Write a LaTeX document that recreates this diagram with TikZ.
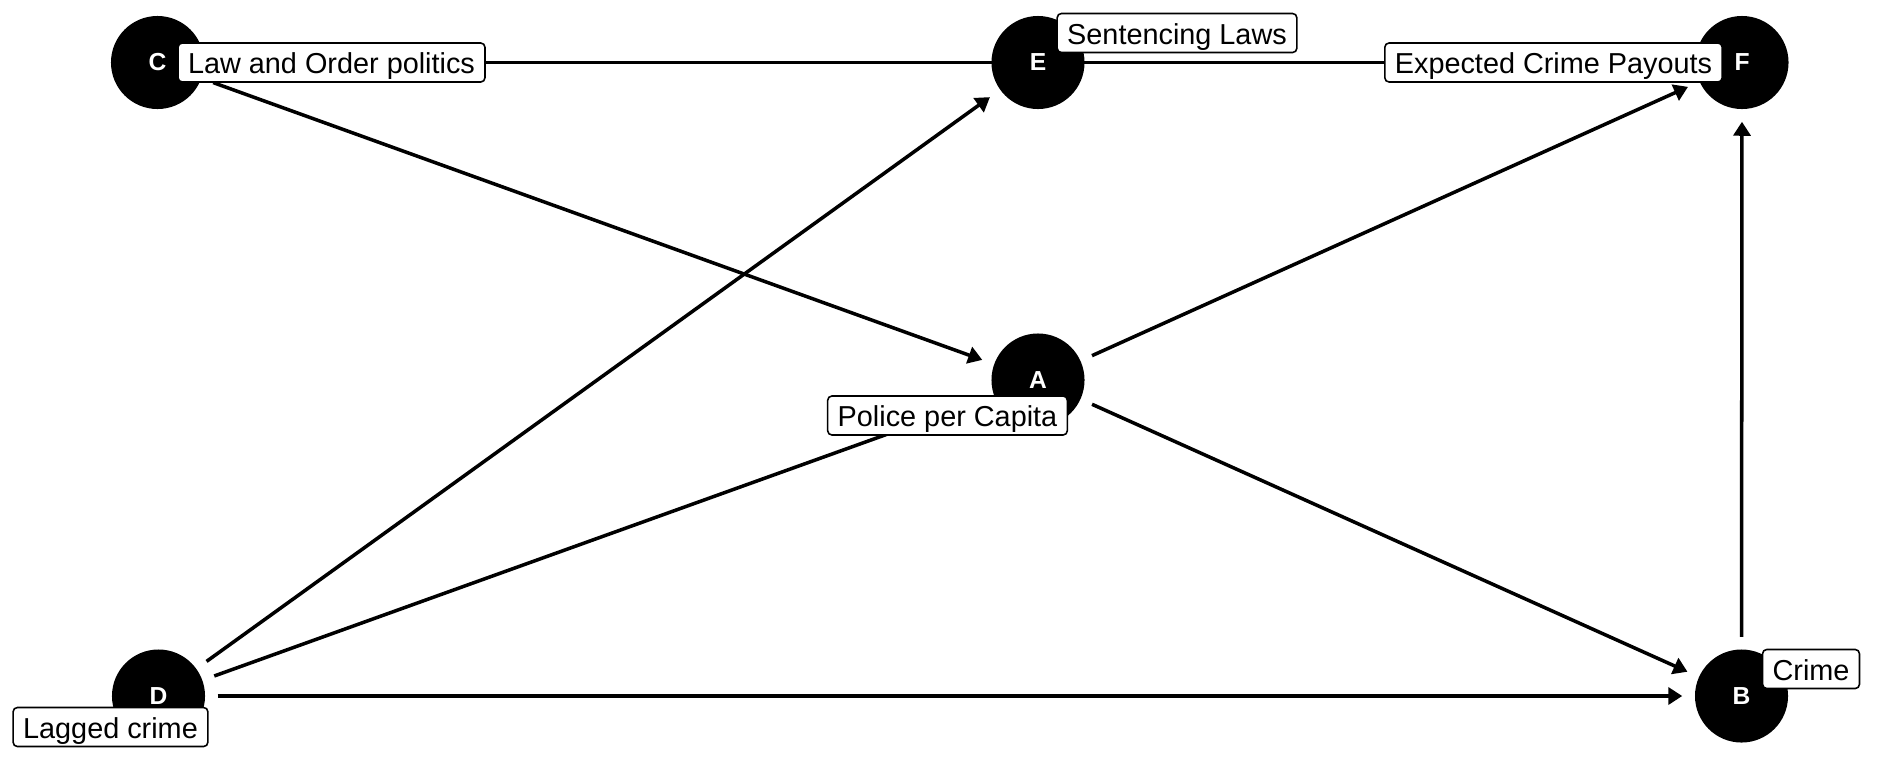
\documentclass[tikz,border=0pt]{standalone}
\usepackage{fontspec}
\setmainfont{Liberation Sans}
\usetikzlibrary{arrows.meta}
\pgfdeclarelayer{bg}
\pgfsetlayers{bg,main}
\begin{document}
\begin{tikzpicture}[x=0.01cm,y=-0.01cm,
  dagnode/.style={circle,fill=black,minimum size=0.93cm,inner sep=0pt,text=white,font=\fontsize{7}{8}\selectfont\bfseries},
  daglabel/.style={draw=black,fill=white,rounded corners=1.2pt,line width=0.45pt,font=\fontsize{8.2}{10}\selectfont,inner xsep=0.1cm,inner ysep=0pt,minimum height=0.39cm,text height=0.77em,text depth=0.12em},
  dagedge/.style={line width=1pt,-{Triangle[length=0.14cm,width=0.17cm]},shorten >=0.12cm,shorten <=0.12cm}]
\useasboundingbox (0,0) rectangle (1900,760);
\node[dagnode] (C) at (157.5,62.5) {C};
\node[dagnode] (E) at (1038,62.5) {E};
\node[dagnode] (F) at (1742,62.5) {F};
\node[dagnode] (A) at (1038,380) {A};
\node[dagnode] (D) at (158.5,696) {D};
\node[dagnode] (B) at (1741.5,696) {B};
\begin{pgfonlayer}{bg}
\fill[white] (0,0) rectangle (1900,760);
\draw[dagedge] (C) -- (A);
\draw[dagedge] (C) -- (F);
\draw[dagedge] (D) -- (E);
\draw[dagedge] (D) -- (A);
\draw[dagedge] (D) -- (B);
\draw[dagedge] (A) -- (F);
\draw[dagedge] (A) -- (B);
\draw[dagedge] (B) -- (F);
\end{pgfonlayer}
\node[daglabel] (Cl) at (331.5,62.5) {Law and Order politics};
\node[daglabel] (El) at (1177,33) {Sentencing Laws};
\node[daglabel] (Fl) at (1553.5,62.5) {Expected Crime Payouts};
\node[daglabel] (Al) at (947.5,415.5) {Police per Capita};
\node[daglabel] (Dl) at (110.5,727) {Lagged crime};
\node[daglabel] (Bl) at (1811,669) {Crime};
\end{tikzpicture}
\end{document}
